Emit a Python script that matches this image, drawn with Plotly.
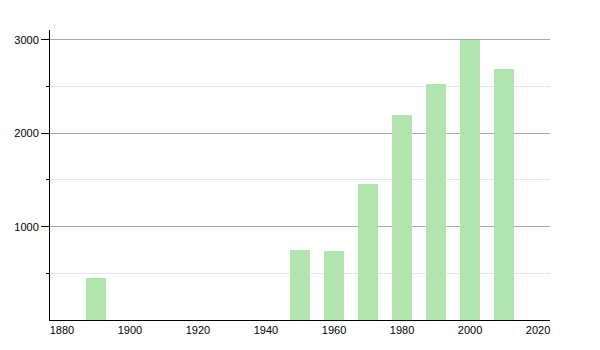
import plotly.graph_objects as go

years = [1890, 1950, 1960, 1970, 1980, 1990, 2000, 2010]
population = [453, 750, 739, 1457, 2196, 2532, 3000, 2689]
x_ticks = [1880, 1900, 1920, 1940, 1960, 1980, 2000, 2020]
y_ticks = [1000, 2000, 3000]
y_minor = [500, 1500, 2500]

fig = go.Figure()
fig.add_trace(go.Bar(
    x=years, y=population, width=6,
    marker=dict(color="#b2e4b0", line=dict(width=0)),
))

fig.update_layout(
    width=600, height=350,
    margin=dict(l=50, r=50, t=30, b=30),
    paper_bgcolor="white", plot_bgcolor="white",
    font=dict(family="Liberation Sans, Arial, sans-serif", size=11, color="black"),
    showlegend=False,
    bargap=0,
)
fig.update_xaxes(
    range=[1876.5, 2023.5],
    tickvals=x_ticks, ticks="", showgrid=False, zeroline=False,
    showline=True, linecolor="black", linewidth=1,
)
fig.update_yaxes(
    range=[0, 3107],
    tickvals=y_ticks, ticks="outside", ticklen=8, tickcolor="black",
    showgrid=True, gridcolor="#aaaaaa", gridwidth=1, zeroline=False,
    showline=True, linecolor="black", linewidth=1,
    minor=dict(tickvals=y_minor, ticks="outside", ticklen=3, tickcolor="black",
               showgrid=True, gridcolor="#e6e6e6", gridwidth=1),
)

fig.write_html("out.html")
